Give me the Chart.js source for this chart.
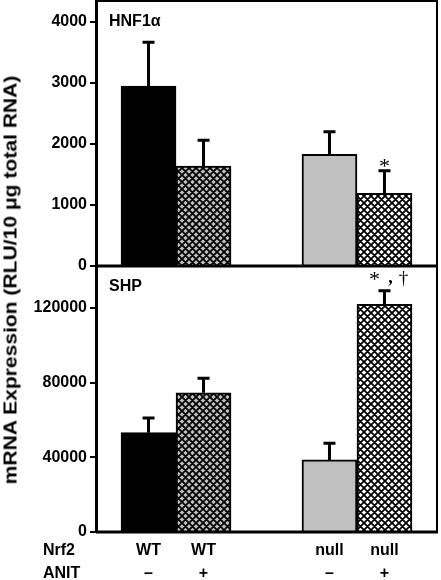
<!DOCTYPE html>
<html lang="en">
<head>
    <meta charset="UTF-8">
    <title>HNF1a / SHP mRNA Expression</title>
    <script src="https://cdn.jsdelivr.net/npm/chart.js@4.4.0/dist/chart.umd.min.js"></script>
    <style>
        * { margin: 0; padding: 0; box-sizing: border-box; }
        body { background: #fff; width: 441px; height: 580px; position: relative; overflow: hidden;
               font-family: 'Liberation Sans', Arial, sans-serif; }
        #top { position: absolute; left: 0; top: 0; }
        #bottom { position: absolute; left: 0; top: 264px; }
        .ytitle {
            position: absolute; left: 11px; top: 280px;
            transform: translate(-50%, -50%) rotate(-90deg) scaleX(1.17);
            white-space: nowrap; font-weight: bold; font-size: 18px; color: #000;
        }
    </style>
</head>
<body>
    <canvas id="top" width="441" height="280"></canvas>
    <canvas id="bottom" width="441" height="316"></canvas>
    <div class="ytitle">mRNA Expression (RLU/10 &mu;g total RNA)</div>

    <script>
        // data
        const nrf2 = ['WT', 'WT', 'null', 'null'];
        const anit = ['\u2013', '+', '\u2013', '+'];
        const hnf1aMean = [2950, 1640, 1830, 1190];
        const hnf1aSd = [720, 420, 370, 370];
        const shpMean = [53200, 74600, 38600, 122000];
        const shpSd = [7900, 7700, 8900, 7300];
        const hnf1aTicks = [0, 1000, 2000, 3000, 4000];
        const shpTicks = [0, 40000, 80000, 120000];
        const hnf1aMarks = ['', '', '', '*'];
        const shpMarks = ['', '', '', '*,\u2020'];

        const GROUP_GAP = 1.29;
        const pos = i => i + (i >= 2 ? GROUP_GAP : 0);
        const FONT = "'Liberation Sans', Arial, sans-serif";

        function hatch(ctx, bg) {
            const s = 7;
            const c = document.createElement('canvas');
            c.width = s; c.height = s;
            const g = c.getContext('2d');
            g.fillStyle = bg;
            g.fillRect(0, 0, s, s);
            g.strokeStyle = '#000';
            g.lineWidth = 1.8;
            g.beginPath();
            for (const o of [-s, 0, s]) {
                g.moveTo(o, 0); g.lineTo(o + s, s);
                g.moveTo(o, s); g.lineTo(o + s, 0);
            }
            g.stroke();
            return ctx.createPattern(c, 'repeat');
        }

        // frame, error bars, panel label and significance marks
        const panelPlugin = {
            id: 'panel',
            afterDatasetsDraw(chart, args, opts) {
                const { ctx, chartArea: a, scales: { x, y } } = chart;
                ctx.save();
                ctx.strokeStyle = '#000';
                ctx.lineWidth = 2;
                ctx.beginPath();
                ctx.moveTo(a.left, a.top); ctx.lineTo(a.right, a.top); ctx.lineTo(a.right, a.bottom);
                ctx.stroke();
                ctx.lineWidth = 3;
                ctx.beginPath();
                ctx.moveTo(a.left, a.bottom); ctx.lineTo(a.right + 1, a.bottom);
                ctx.stroke();

                opts.mean.forEach((m, i) => {
                    const px = x.getPixelForValue(pos(i));
                    const y0 = y.getPixelForValue(m);
                    const y1 = y.getPixelForValue(m + opts.sd[i]);
                    ctx.lineWidth = 3;
                    ctx.beginPath();
                    ctx.moveTo(px, y0); ctx.lineTo(px, y1);
                    ctx.moveTo(px - 6, y1); ctx.lineTo(px + 6, y1);
                    ctx.stroke();

                    const mk = opts.marks[i];
                    if (mk) {
                        ctx.fillStyle = '#000';
                        ctx.textAlign = 'center';
                        ctx.textBaseline = 'middle';
                        ctx.font = "22px 'Liberation Serif', serif";
                        const parts = mk.split(',');
                        if (parts.length === 1) {
                            ctx.fillText(parts[0], px, y1 - 4);
                        } else {
                            ctx.fillText(parts[0], px - 10, y1 - 10);
                            ctx.font = "bold 18px 'Liberation Serif', serif";
                            ctx.fillText(',', px + 6, y1 - 12);
                            ctx.font = "19px 'Liberation Serif', serif";
                            ctx.fillText(parts[1], px + 19, y1 - 12);
                        }
                    }
                });

                ctx.fillStyle = '#000';
                ctx.font = 'bold 16px ' + FONT;
                ctx.textAlign = 'left';
                ctx.textBaseline = 'middle';
                ctx.fillText(opts.label, a.left + 13, a.top + 21);

                if (opts.rows) {
                    ctx.font = 'bold 16px ' + FONT;
                    ctx.fillText('Nrf2', 43, a.bottom + 19);
                    ctx.fillText('ANIT', 43, a.bottom + 42);
                    ctx.textAlign = 'center';
                    nrf2.forEach((t, i) => {
                        const px = x.getPixelForValue(pos(i));
                        ctx.fillText(t, px, a.bottom + 19);
                        ctx.fillText(anit[i], px, a.bottom + 42);
                    });
                }
                ctx.restore();
            }
        };

        function makePanel(id, mean, sd, ticks, max, marks, label, rows, padding) {
            const ctx = document.getElementById(id).getContext('2d');
            const colors = ['#000000', hatch(ctx, '#c0c0c0'), '#c0c0c0', hatch(ctx, '#ffffff')];
            return new Chart(ctx, {
                type: 'bar',
                data: {
                    datasets: [{
                        data: mean.map((v, i) => ({ x: pos(i), y: v })),
                        backgroundColor: colors,
                        borderColor: '#000',
                        borderWidth: 2,
                        barPercentage: 1,
                        categoryPercentage: 1
                    }]
                },
                options: {
                    responsive: false,
                    animation: false,
                    layout: { padding: padding },
                    plugins: {
                        legend: { display: false },
                        tooltip: { enabled: false },
                        panel: { mean, sd, marks, label, rows }
                    },
                    scales: {
                        x: { type: 'linear', min: -0.955, max: 5.245, offset: false, display: false },
                        y: {
                            min: 0, max: max,
                            afterFit(scale) {
                                scale.width = 96;
                                scale.paddingTop = 0;
                                scale.paddingBottom = 0;
                            },
                            afterBuildTicks(scale) { scale.ticks = ticks.map(v => ({ value: v })); },
                            grid: { drawOnChartArea: false, drawTicks: true, tickLength: 6, color: '#000', lineWidth: 2 },
                            border: { display: true, color: '#000', width: 3 },
                            ticks: {
                                color: '#000', padding: 3,
                                font: { family: FONT, size: 16, weight: 'bold' },
                                callback: v => String(v)
                            }
                        }
                    }
                },
                plugins: [panelPlugin]
            });
        }

        makePanel('top', hnf1aMean, hnf1aSd, hnf1aTicks, 4345, hnf1aMarks, 'HNF1\u03b1', false,
            { top: 1, bottom: 14, right: 4, left: 0 });
        makePanel('bottom', shpMean, shpSd, shpTicks, 142500, shpMarks, 'SHP', true,
            { top: 2, bottom: 48, right: 4, left: 0 });
    </script>
</body>
</html>
